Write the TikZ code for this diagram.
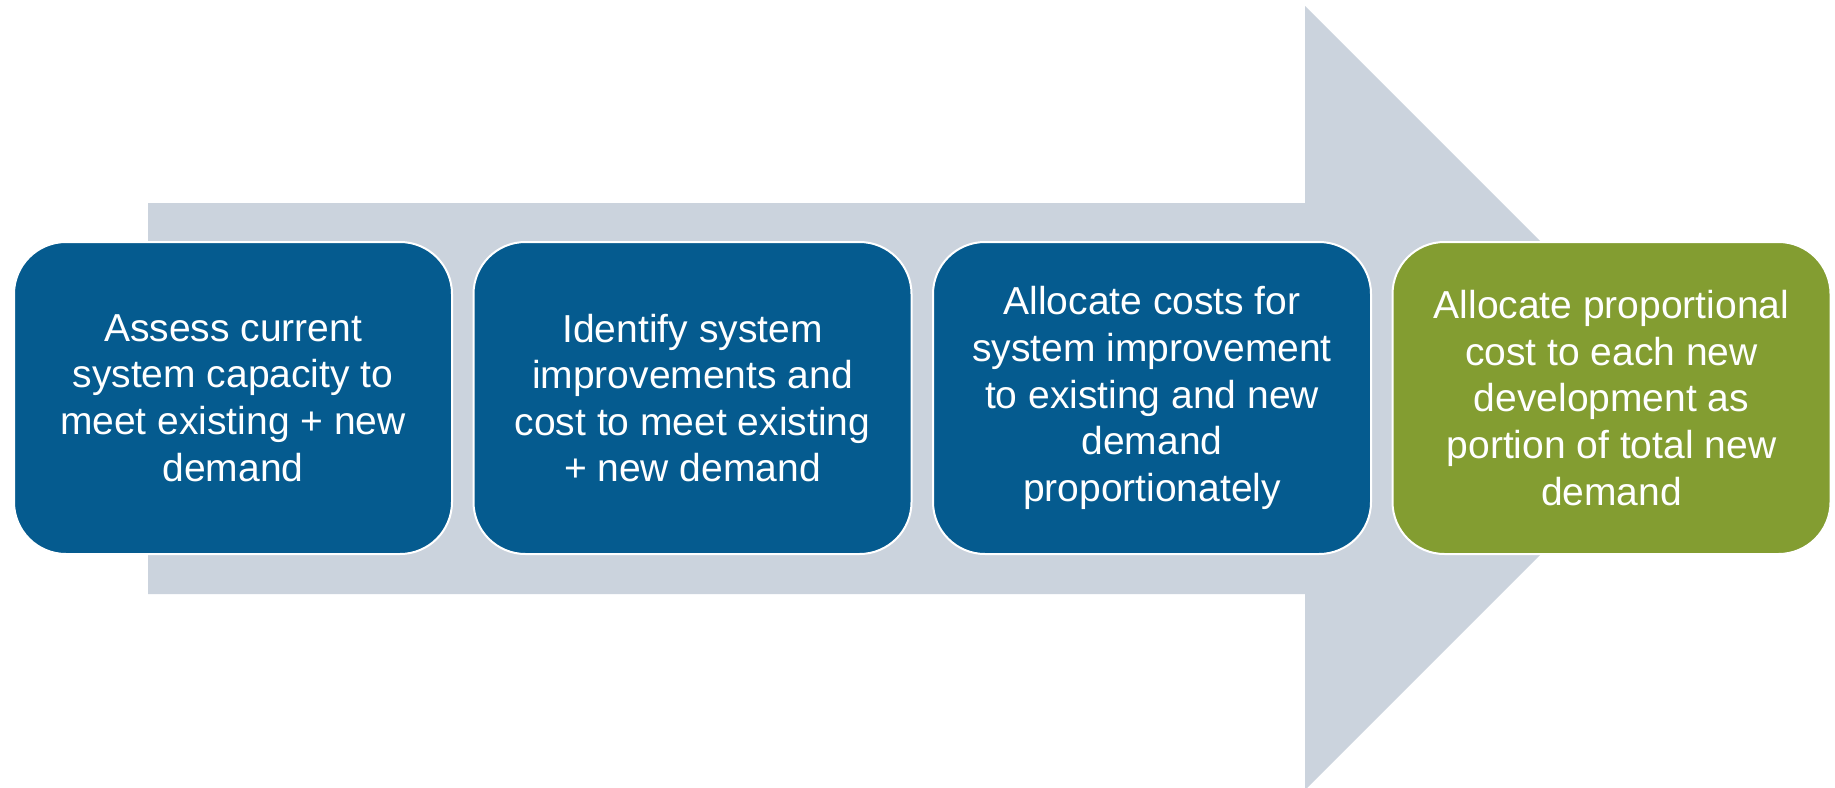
\documentclass[tikz,border=0pt]{standalone}
\usepackage{fontspec}
\setmainfont{Liberation Sans}
\definecolor{stepblue}{HTML}{055B8F}
\definecolor{stepgreen}{HTML}{839D31}
\definecolor{arrowgray}{HTML}{CBD3DD}
\begin{document}
\begin{tikzpicture}[x=0.5pt,y=-0.5pt,
  stepbox/.style={draw=white, line width=1pt, rounded corners=26pt,
    minimum width=219pt, minimum height=156pt, text=white, align=center,
    font=\fontsize{19.5pt}{23.3pt}\selectfont, inner sep=0pt},
  bluebox/.style={stepbox, fill=stepblue},
  greenbox/.style={stepbox, fill=stepgreen}]
\useasboundingbox (0,0) rectangle (1835,787);
\fill[arrowgray] (148,203) -- (1305,203) -- (1305,6) -- (1697,398) -- (1305,790) -- (1305,594) -- (148,594) -- cycle;
\node[bluebox] (b1) at (233,398) {Assess current\\system capacity to\\meet existing + new\\demand};
\node[bluebox] (b2) at (692.5,398) {Identify system\\improvements and\\cost to meet existing\\+ new demand};
\node[bluebox] (b3) at (1152,398) {Allocate costs for\\system improvement\\to existing and new\\demand\\proportionately};
\node[greenbox] (b4) at (1611.5,398) {Allocate proportional\\cost to each new\\development as\\portion of total new\\demand};
\end{tikzpicture}
\end{document}
